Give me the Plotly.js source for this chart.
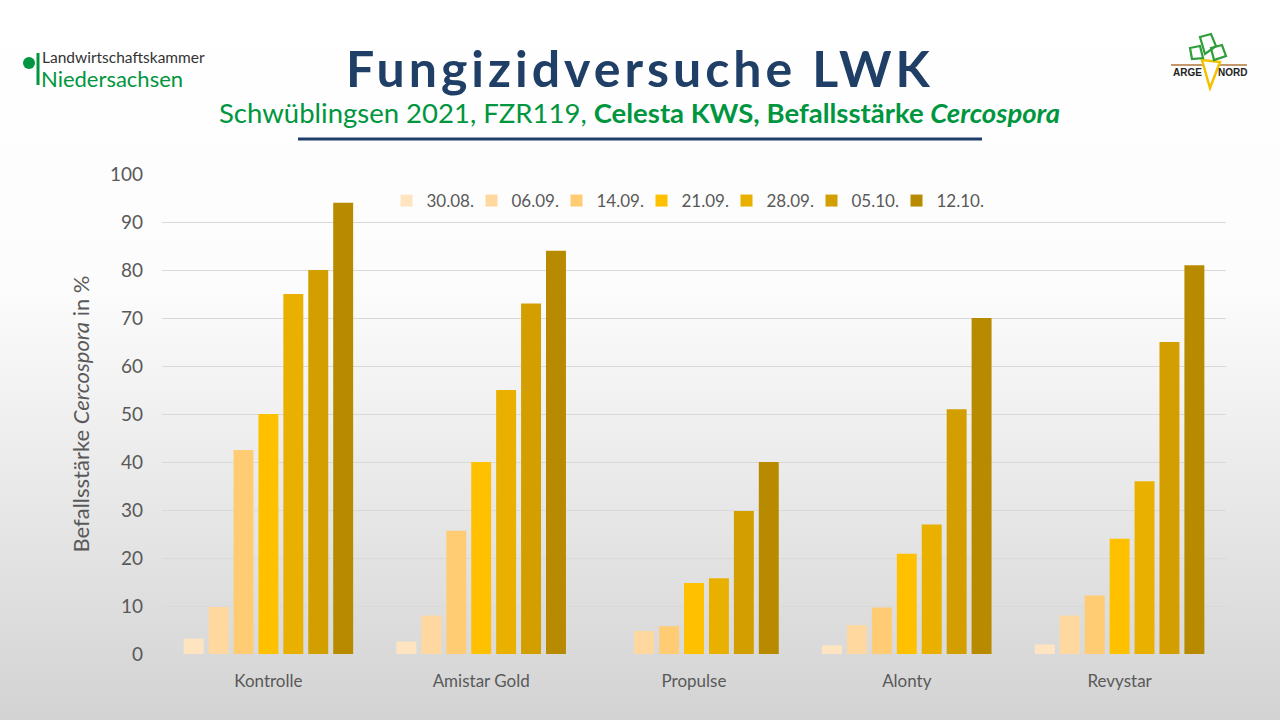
<!DOCTYPE html>
<html>
<head>
<meta charset="utf-8">
<script src="https://cdn.plot.ly/plotly-3.0.1.min.js"></script>
<style>
  html, body { margin: 0; padding: 0; }
  body {
    width: 1280px; height: 720px; overflow: hidden;
    background: linear-gradient(to bottom, #ffffff 0%, #fcfcfc 40%, #d3d3d3 100%);
  }
  #chart { width: 1280px; height: 720px; }
</style>
</head>
<body>
<div id="chart"></div>
<script>
// ---- data ----
const categories = ["Kontrolle", "Amistar Gold", "Propulse", "Alonty", "Revystar"];
const dates = ["30.08.", "06.09.", "14.09.", "21.09.", "28.09.", "05.10.", "12.10."];
const v3008 = [3.2, 2.6, null, 1.8, 2.0];
const v0609 = [9.8, 8.0, 4.8, 6.0, 8.0];
const v1409 = [42.5, 25.7, 5.8, 9.7, 12.2];
const v2109 = [50, 40, 14.8, 20.9, 24];
const v2809 = [75, 55, 15.8, 27, 36];
const v0510 = [80, 73, 29.8, 51, 65];
const v1210 = [94, 84, 40, 70, 81];
const seriesValues = [v3008, v0609, v1409, v2109, v2809, v0510, v1210];
const seriesColors = ["#FFE4C2", "#FFD89F", "#FFCC73", "#FFC000", "#E9B000", "#D39F00", "#B88A00"];

// ---- layout geometry ----
const W = 1280, H = 720;
const L = 162, R = 54, T = 174, B = 66;
const PW = W - L - R, PH = H - T - B;
const px = x => (x - L) / PW;
const py = y => (H - B - y) / PH;

const traces = dates.map((d, i) => ({
  type: "bar",
  name: d,
  x: categories,
  y: seriesValues[i],
  marker: { color: seriesColors[i] },
  hoverinfo: "skip"
}));

const green = "#00963F";
const navy = "#1F3F66";
const textGrey = "#595959";

const shapes = [
  // underline below subtitle
  { type: "line", xref: "paper", yref: "paper", x0: px(298), x1: px(982), y0: py(139), y1: py(139),
    line: { color: navy, width: 3 } },
  // left logo: dot and bar
  { type: "circle", xref: "paper", yref: "paper", x0: px(23), x1: px(35), y0: py(57), y1: py(69),
    fillcolor: green, line: { width: 0 } },
  { type: "rect", xref: "paper", yref: "paper", x0: px(36.5), x1: px(39.5), y0: py(53), y1: py(85),
    fillcolor: green, line: { width: 0 } },
  // right logo: ground line
  { type: "line", xref: "paper", yref: "paper", x0: px(1171), x1: px(1247), y0: py(65), y1: py(65),
    line: { color: "#B0763A", width: 1.5 } },
  // carrot
  { type: "path", xref: "paper", yref: "paper",
    path: `M ${px(1202)} ${py(60)} L ${px(1220)} ${py(62)} L ${px(1210)} ${py(88)} Z`,
    fillcolor: "#FFFFFF", line: { color: "#F2C200", width: 2.5 } },
  // leaves
  { type: "path", xref: "paper", yref: "paper",
    path: `M ${px(1190)} ${py(48)} L ${px(1200)} ${py(46)} L ${px(1203)} ${py(58)} L ${px(1192)} ${py(59)} Z`,
    fillcolor: "rgba(0,0,0,0)", line: { color: "#2E9E3A", width: 2.2 } },
  { type: "path", xref: "paper", yref: "paper",
    path: `M ${px(1200)} ${py(37)} L ${px(1211)} ${py(34)} L ${px(1216)} ${py(46)} L ${px(1205)} ${py(54)} Z`,
    fillcolor: "rgba(0,0,0,0)", line: { color: "#2E9E3A", width: 2.2 } },
  { type: "path", xref: "paper", yref: "paper",
    path: `M ${px(1211)} ${py(48)} L ${px(1222)} ${py(45)} L ${px(1226)} ${py(56)} L ${px(1214)} ${py(60)} Z`,
    fillcolor: "rgba(0,0,0,0)", line: { color: "#2E9E3A", width: 2.2 } }
];

const annotations = [
  { text: "<b>Fungizidversuche LWK</b>", xref: "paper", yref: "paper", x: px(640), y: py(68),
    xanchor: "center", yanchor: "middle", showarrow: false,
    font: { family: "Lato, Carlito, sans-serif", size: 50, color: navy } },
  { text: "Schwüblingsen 2021, FZR119, <b>Celesta KWS, Befallsstärke <i>Cercospora</i></b>",
    xref: "paper", yref: "paper", x: px(639), y: py(112), xanchor: "center", yanchor: "middle",
    showarrow: false, font: { family: "Lato, Carlito, sans-serif", size: 27.5, color: green } },
  { text: "Landwirtschaftskammer", xref: "paper", yref: "paper", x: px(40), y: py(57),
    xanchor: "left", yanchor: "middle", showarrow: false,
    font: { family: "Lato, sans-serif", size: 15.5, color: "#333333" } },
  { text: "Niedersachsen", xref: "paper", yref: "paper", x: px(39), y: py(79),
    xanchor: "left", yanchor: "middle", showarrow: false,
    font: { family: "Lato, sans-serif", size: 22, color: green } },
  { text: "<b>ARGE</b>", xref: "paper", yref: "paper", x: px(1171), y: py(73),
    xanchor: "left", yanchor: "middle", showarrow: false,
    font: { family: "Liberation Sans, Arial, sans-serif", size: 10, color: "#222222" } },
  { text: "<b>NORD</b>", xref: "paper", yref: "paper", x: px(1216), y: py(73),
    xanchor: "left", yanchor: "middle", showarrow: false,
    font: { family: "Liberation Sans, Arial, sans-serif", size: 10, color: "#222222" } }
];

const layout = {
  width: W, height: H,
  margin: { l: L, r: R, t: T, b: B, pad: 0 },
  paper_bgcolor: "rgba(0,0,0,0)",
  plot_bgcolor: "rgba(0,0,0,0)",
  font: { family: "Lato, Carlito, sans-serif", color: textGrey },
  barmode: "group",
  bargap: 0.18,
  bargroupgap: 0.2,
  showlegend: true,
  legend: {
    orientation: "h", x: px(684), xanchor: "center", y: py(201), yanchor: "middle",
    font: { size: 17, color: textGrey }, bgcolor: "rgba(0,0,0,0)",
    itemwidth: 30, traceorder: "normal",
    entrywidth: 40, entrywidthmode: "pixels"
  },
  xaxis: {
    type: "category", showgrid: false, zeroline: false, showline: false,
    ticks: "", ticklabelstandoff: 15,
    tickfont: { size: 17, color: textGrey }, fixedrange: true
  },
  yaxis: {
    range: [0, 100], dtick: 10, tick0: 0,
    showgrid: true, gridcolor: "#D9D9D9", gridwidth: 1,
    zeroline: true, zerolinecolor: "#D9D9D9", zerolinewidth: 1,
    showline: false, ticks: "", ticklabelstandoff: 18,
    tickfont: { size: 19, color: textGrey },
    title: { text: "Befallsstärke <i>Cercospora</i> in %", font: { size: 22, color: textGrey }, standoff: 14 },
    fixedrange: true
  },
  shapes: shapes,
  annotations: annotations
};

Plotly.newPlot("chart", traces, layout, { displayModeBar: false, staticPlot: true }).then(() => {
  const first = document.querySelector(".annotation .annotation-text");
  if (first) first.style.letterSpacing = "4px";
  document.querySelectorAll(".legend .scrollbox, .legend").forEach(el => el.removeAttribute("clip-path"));
});
</script>
</body>
</html>
